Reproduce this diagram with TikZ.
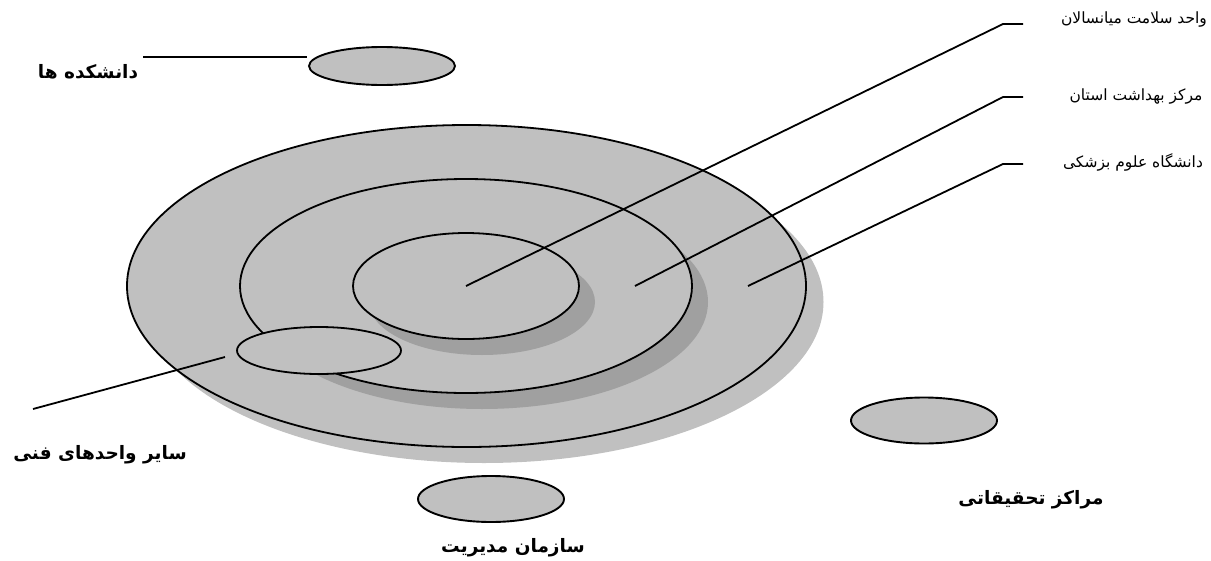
\documentclass[tikz,border=0pt]{standalone}
\usepackage{fontspec}
\TeXXeTstate=1
\newfontfamily\arabicfont[Script=Arabic]{DejaVu Sans}
\usetikzlibrary{shapes.geometric}
\definecolor{diskgray}{HTML}{C0C0C0}
\definecolor{shadowgray}{HTML}{A0A0A0}
\tikzset{
  ring/.style={ellipse, draw=black, fill=diskgray, line width=1.8pt, inner sep=0pt},
  blob/.style={ellipse, draw=black, fill=diskgray, line width=1.9pt, inner sep=0pt, minimum width=146pt, minimum height=46pt},
  leader/.style={draw=black, line width=1.8pt},
  smalllabel/.style={font=\arabicfont\fontsize{15.5}{18}\selectfont, inner sep=0pt},
  biglabel/.style={font=\arabicfont\bfseries\fontsize{18.5}{22}\selectfont, inner sep=0pt}
}
\begin{document}
\begin{tikzpicture}[x=1pt,y=-1pt]
\useasboundingbox (0,0) rectangle (1211,560);
% shadows and disks
\fill[diskgray] (484,302) ellipse [x radius=339.5, y radius=161];
\node[ring, minimum width=679pt, minimum height=322pt] (outer) at (466.5,286) {};
\fill[shadowgray] (482,302) ellipse [x radius=226, y radius=107];
\node[ring, minimum width=452pt, minimum height=214pt] (middle) at (466,286) {};
\fill[shadowgray] (482,302) ellipse [x radius=113, y radius=53];
\node[ring, minimum width=226pt, minimum height=106pt] (inner) at (466,286) {};
\node[ring, minimum width=164pt, minimum height=47pt] (tech) at (319,350.5) {};
% leader coordinates
\coordinate (p2) at (635,286);
\coordinate (p3) at (748,286);
\coordinate (k1) at (1003,24);
\coordinate (h1) at (1023,24);
\coordinate (k2) at (1003,97);
\coordinate (h2) at (1023,97);
\coordinate (k3) at (1003,164);
\coordinate (h3) at (1023,164);
\draw[leader] (inner.center) -- (k1) -- (h1);
\draw[leader] (p2) -- (k2) -- (h2);
\draw[leader] (p3) -- (k3) -- (h3);
% labels at right
\node[smalllabel] (l1) at (1134,20) {\beginR واحد سلامت میانسالان\endR};
\node[smalllabel] (l2) at (1136,97) {\beginR مرکز بهداشت استان\endR};
\node[smalllabel] (l3) at (1133,162) {\beginR دانشگاه علوم بزشکی\endR};
% faculties
\node[blob, minimum height=38pt] (fac) at (382,66) {};
\coordinate (f1) at (143,57);
\coordinate (f2) at (307,57);
\draw[leader] (f1) -- (f2);
\node[biglabel] (facl) at (88,72) {\beginR دانشکده ها\endR};
% other technical units
\coordinate (t1) at (225,357);
\coordinate (t2) at (33,409);
\draw[leader] (t1) -- (t2);
\node[biglabel] (techl) at (100,455) {\beginR سایر واحدهای فنی\endR};
% research centres
\node[blob] (res) at (924,420.5) {};
\node[biglabel] (resl) at (1031,500) {\beginR مراکز تحقیقاتی\endR};
% management organisation
\node[blob] (mgmt) at (491,499) {};
\node[biglabel] (mgmtl) at (513,548) {\beginR سازمان مدیریت\endR};
\end{tikzpicture}
\end{document}
